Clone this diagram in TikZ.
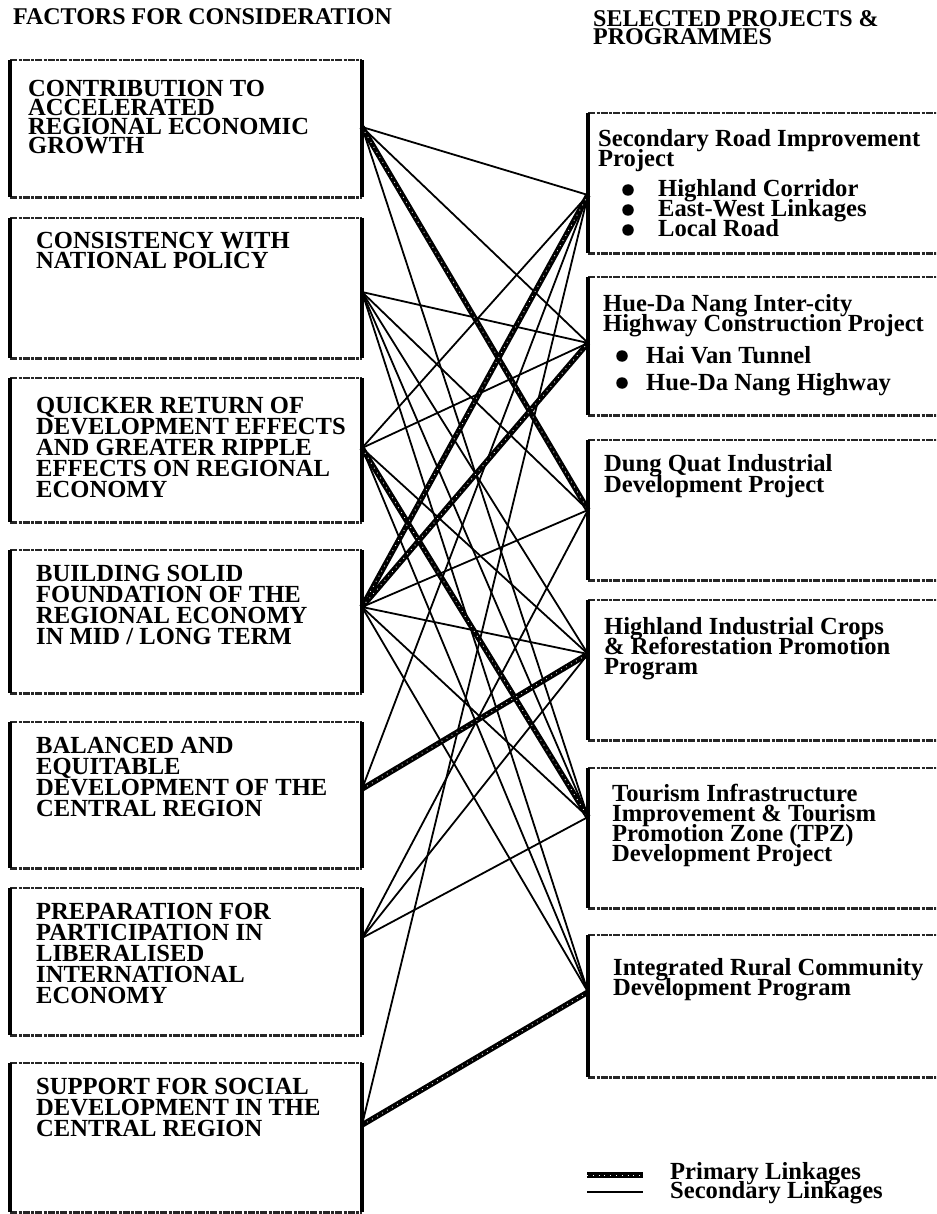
\documentclass[tikz,border=0pt]{standalone}
\usepackage{fontspec}
\setmainfont{Liberation Serif}
\begin{document}
\begin{tikzpicture}[x=1pt,y=-1pt,
  txt/.style={font=\fontsize{24.6}{20}\selectfont\bfseries, inner sep=0pt, anchor=base west,
              text height=14.5pt, text depth=3.5pt},
  head/.style={font=\fontsize{24}{18}\selectfont\bfseries, inner sep=0pt, anchor=base west,
              text height=14pt, text depth=2.5pt},
  frame/.style={inner sep=0pt, anchor=north west},
  side/.style={line width=4pt},
  edge/.style={line width=2.6pt, black!85, dash pattern=on 7pt off 1.5pt on 3pt off 1pt},
  seclink/.style={line width=1.8pt},
  primlink/.style={line width=5.5pt},
  speck/.style={line width=0.9pt, white, dash pattern=on 0.8pt off 5pt},
  dot/.style={circle, fill=black, inner sep=0pt, minimum size=11.5pt},
]
\useasboundingbox (0,0) rectangle (936,1214);
\fill[white] (0,0) rectangle (936,1214);
\clip (0,0) rectangle (936,1214);

% headings
\node[head] (h1) at (13,25) {FACTORS FOR CONSIDERATION};
\node[head] (h2) at (593,27) {SELECTED PROJECTS \&};
\node[head] (h3) at (593,45) {PROGRAMMES};

% link end points on the box edges
\foreach \i/\y in {1/127,2/292,3/448,4/607,5/789,6/938,7/1125}
  \coordinate (a\i) at (362,\y);
\foreach \i/\y in {1/195,2/343,3/510,4/654,5/817,6/992}
  \coordinate (b\i) at (588,\y);

% secondary linkages
\foreach \p/\q in {1/1,1/2,1/5,2/2,2/3,2/4,2/5,2/6,3/1,3/2,3/4,3/6,
                   4/3,4/4,4/5,4/6,5/1,6/3,6/4,6/5,7/1}
  \draw[seclink] (a\p) -- (b\q);

% primary linkages
\foreach \p/\q in {1/3,3/5,4/1,4/2,5/4,7/6}{
  \draw[primlink] (a\p) -- (b\q);
  \draw[speck] (a\p) -- (b\q);
}

% factor boxes
\foreach \n/\t/\b in {1/60/197,2/218/358,3/378/522,4/550/693,5/722/868,6/888/1035,7/1063/1212}{
  \node[frame, minimum width=352, minimum height=\b-\t] (f\n) at (10,\t) {};
  \draw[edge] (f\n.north west) -- (f\n.north east);
  \draw[edge] (f\n.south west) -- (f\n.south east);
  \draw[side] (f\n.north west) -- (f\n.south west);
  \draw[side] (f\n.north east) -- (f\n.south east);
}

% project boxes (running off the right edge)
\foreach \n/\t/\b in {1/113/253,2/277/415,3/440/580,4/600/740,5/768/908,6/935/1077}{
  \node[frame, minimum width=362, minimum height=\b-\t] (g\n) at (588,\t) {};
  \draw[edge] (g\n.north west) -- (g\n.north east);
  \draw[edge] (g\n.south west) -- (g\n.south east);
  \draw[side] (g\n.north west) -- (g\n.south west);
}

% factor texts
\foreach \s [count=\i] in {CONTRIBUTION TO, ACCELERATED, REGIONAL ECONOMIC, GROWTH}
  \node[txt] (ta\i) at (28,97+19*\i-19) {\s};
\foreach \s [count=\i] in {CONSISTENCY WITH, NATIONAL POLICY}
  \node[txt] (tb\i) at (36,249+20*\i-20) {\s};
\foreach \s [count=\i] in {QUICKER RETURN OF, DEVELOPMENT EFFECTS, AND GREATER RIPPLE,
                           EFFECTS ON REGIONAL, ECONOMY}
  \node[txt] (tc\i) at (36,413+21*\i-21) {\s};
\foreach \s [count=\i] in {BUILDING SOLID, FOUNDATION OF THE, REGIONAL ECONOMY, IN MID / LONG TERM}
  \node[txt] (td\i) at (36,581+21*\i-21) {\s};
\foreach \s [count=\i] in {BALANCED AND, EQUITABLE, DEVELOPMENT OF  THE, CENTRAL REGION}
  \node[txt] (te\i) at (36,753+21*\i-21) {\s};
\foreach \s [count=\i] in {PREPARATION FOR, PARTICIPATION IN, LIBERALISED, INTERNATIONAL, ECONOMY}
  \node[txt] (tf\i) at (36,919+21*\i-21) {\s};
\foreach \s [count=\i] in {SUPPORT FOR SOCIAL, DEVELOPMENT IN THE, CENTRAL REGION}
  \node[txt] (tg\i) at (36,1094+21*\i-21) {\s};

% project texts
\foreach \s [count=\i] in {Secondary Road Improvement, Project}
  \node[txt] (ua\i) at (598,147+20*\i-20) {\s};
\foreach \s [count=\i] in {Highland Corridor, East-West Linkages, Local Road}{
  \node[dot] (da\i) at (628,190+20*\i-20) {};
  \node[txt] (va\i) at (658,197+20*\i-20) {\s};
}
\foreach \s [count=\i] in {Hue-Da Nang Inter-city, Highway Construction Project}
  \node[txt] (ub\i) at (603,311+20*\i-20) {\s};
\foreach \s [count=\i] in {Hai Van Tunnel, Hue-Da Nang Highway}{
  \node[dot] (db\i) at (622,356+27*\i-27) {};
  \node[txt] (vb\i) at (646,363+27*\i-27) {\s};
}
\foreach \s [count=\i] in {Dung Quat Industrial, Development Project}
  \node[txt] (uc\i) at (604,471+21*\i-21) {\s};
\foreach \s [count=\i] in {Highland Industrial Crops, {\& Reforestation Promotion}, Program}
  \node[txt] (ud\i) at (604,634+20*\i-20) {\s};
\foreach \s [count=\i] in {Tourism Infrastructure, {Improvement \& Tourism}, {Promotion Zone (TPZ)}, Development Project}
  \node[txt] (ue\i) at (612,801+20*\i-20) {\s};
\foreach \s [count=\i] in {Integrated Rural Community, Development Program}
  \node[txt] (uf\i) at (613,975+20*\i-20) {\s};

% legend
\coordinate (k1) at (587,1175);
\coordinate (k2) at (643,1175);
\coordinate (k3) at (587,1192);
\coordinate (k4) at (643,1192);
\draw[primlink] (k1) -- (k2);
\draw[speck] (k1) -- (k2);
\draw[seclink] (k3) -- (k4);
\node[txt] (lg1) at (670,1179) {Primary Linkages};
\node[txt] (lg2) at (670,1198) {Secondary Linkages};
\end{tikzpicture}
\end{document}
